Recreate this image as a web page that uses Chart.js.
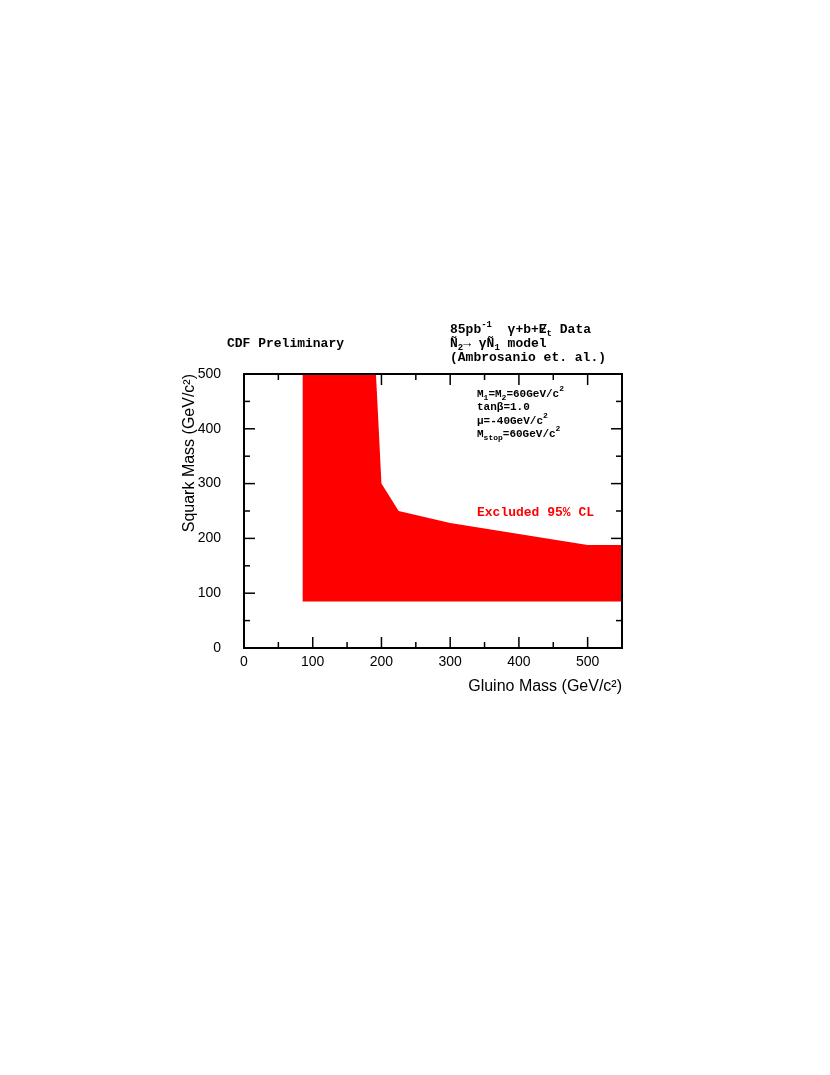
<!DOCTYPE html>
<html><head><meta charset="utf-8">
<script src="https://cdn.jsdelivr.net/npm/chart.js@4"></script>
<style>html,body{margin:0;padding:0;background:#fff}</style>
</head><body>
<canvas id="c" width="830" height="1075"></canvas>
<script>
// ---- data ----
const gluinoMass  = [85, 192, 200, 225, 300, 500, 550];   // GeV/c^2, upper contour x
const squarkLimit = [500, 500, 300, 250, 228, 188, 188];  // GeV/c^2, upper contour y
const lowerSquark = 85;                                    // lower edge of excluded region
const xTickValues = [0, 100, 200, 300, 400, 500];
const xMinorValues = [50, 150, 250, 350, 450];
const yTickValues = [0, 100, 200, 300, 400, 500];
const yMinorValues = [50, 150, 250, 350, 450];

const MONO = '"Liberation Mono", "DejaVu Sans Mono", monospace';
const SANS = '"Liberation Sans", Arial, sans-serif';
Chart.defaults.font.family = SANS;
Chart.defaults.color = '#000';

function drawRich(ctx, x, y, parts, size, color) {
  let cx = x;
  ctx.fillStyle = color; ctx.textBaseline = 'middle'; ctx.textAlign = 'left';
  parts.forEach(([t, type]) => {
    const small = type === 'sub' || type === 'sup';
    const s = small ? Math.round(size * 0.72) : size;
    ctx.font = `bold ${s}px ${MONO}`;
    const dy = type === 'sub' ? size * 0.32 : type === 'sup' ? -size * 0.42 : 0;
    ctx.fillText(t, cx, y + dy);
    if (type === 'slash') {
      ctx.fillText('/', cx + 1, y);
    }
    cx += ctx.measureText(t).width;
  });
}

const framePlugin = {
  id: 'frame',
  beforeDatasetsDraw(chart) {
    const {ctx, chartArea: a, scales: {x, y}} = chart;
    ctx.save();
    ctx.strokeStyle = '#000'; ctx.lineWidth = 1.5;
    const seg = (x1, y1, x2, y2) => { ctx.beginPath(); ctx.moveTo(x1, y1); ctx.lineTo(x2, y2); ctx.stroke(); };
    const MAJ = 11, MIN = 6;
    xTickValues.forEach(v => { const p = x.getPixelForValue(v); seg(p, a.bottom, p, a.bottom - MAJ); seg(p, a.top, p, a.top + MAJ); });
    xMinorValues.forEach(v => { const p = x.getPixelForValue(v); seg(p, a.bottom, p, a.bottom - MIN); seg(p, a.top, p, a.top + MIN); });
    yTickValues.forEach(v => { const p = y.getPixelForValue(v); seg(a.left, p, a.left + MAJ, p); seg(a.right, p, a.right - MAJ, p); });
    yMinorValues.forEach(v => { const p = y.getPixelForValue(v); seg(a.left, p, a.left + MIN, p); seg(a.right, p, a.right - MIN, p); });
    ctx.restore();
  },
  afterDatasetsDraw(chart) {
    const {ctx, chartArea: a} = chart;
    ctx.save();
    ctx.strokeStyle = '#000'; ctx.lineWidth = 2;
    ctx.strokeRect(a.left, a.top, a.right - a.left, a.bottom - a.top);
    ctx.restore();
  },
  afterDraw(chart) {
    const {ctx} = chart;
    ctx.save();
    drawRich(ctx, 227, 344, [['CDF Preliminary', 'n']], 13, '#000');
    drawRich(ctx, 450, 330, [['85pb', 'n'], ['-1', 'sup'], ['  \u03b3+b+', 'n'], ['E', 'slash'], ['t', 'sub'], [' Data', 'n']], 13, '#000');
    drawRich(ctx, 450, 344, [['\u00d1', 'n'], ['2', 'sub'], ['\u2192 \u03b3', 'n'], ['\u00d1', 'n'], ['1', 'sub'], [' model', 'n']], 13, '#000');
    drawRich(ctx, 450, 358, [['(Ambrosanio et. al.)', 'n']], 13, '#000');
    drawRich(ctx, 477, 394, [['M', 'n'], ['1', 'sub'], ['=M', 'n'], ['2', 'sub'], ['=60GeV/c', 'n'], ['2', 'sup']], 11, '#000');
    drawRich(ctx, 477, 407, [['tan\u03b2=1.0', 'n']], 11, '#000');
    drawRich(ctx, 477, 421, [['\u03bc=-40GeV/c', 'n'], ['2', 'sup']], 11, '#000');
    drawRich(ctx, 477, 434, [['M', 'n'], ['stop', 'sub'], ['=60GeV/c', 'n'], ['2', 'sup']], 11, '#000');
    drawRich(ctx, 477, 513, [['Excluded 95% CL', 'n']], 13, '#ff0000');
    ctx.restore();
  }
};

new Chart(document.getElementById('c'), {
  type: 'scatter',
  data: {
    datasets: [{
      data: gluinoMass.map((g, i) => ({x: g, y: squarkLimit[i]})),
      showLine: true,
      tension: 0,
      borderWidth: 0,
      borderColor: 'rgba(0,0,0,0)',
      pointRadius: 0,
      backgroundColor: '#ff0000',
      fill: {target: {value: lowerSquark}}
    }]
  },
  options: {
    responsive: false,
    animation: false,
    layout: {padding: {left: 180, top: 374, right: 208, bottom: 379}},
    plugins: {legend: {display: false}, tooltip: {enabled: false}},
    scales: {
      x: {
        type: 'linear', min: 0, max: 550,
        afterBuildTicks: s => { s.ticks = xTickValues.map(v => ({value: v})); },
        afterFit: s => { s.height = 48; },
        grid: {display: false, drawTicks: false},
        border: {display: false},
        ticks: {font: {size: 14, family: SANS}, color: '#000', padding: 6, maxRotation: 0, autoSkip: false},
        title: {display: true, text: 'Gluino Mass (GeV/c\u00b2)', align: 'end', color: '#000',
                font: {size: 16, family: SANS}, padding: {top: 0, bottom: 0}}
      },
      y: {
        type: 'linear', min: 0, max: 500,
        afterBuildTicks: s => { s.ticks = yTickValues.map(v => ({value: v})); },
        afterFit: s => { s.width = 64; },
        grid: {display: false, drawTicks: false},
        border: {display: false},
        ticks: {font: {size: 14, family: SANS}, color: '#000', padding: 23, autoSkip: false},
        title: {display: true, text: 'Squark Mass (GeV/c\u00b2)', align: 'end', color: '#000',
                font: {size: 16, family: SANS}, padding: {top: 0, bottom: 0}}
      }
    }
  },
  plugins: [framePlugin]
});
</script>
</body></html>
